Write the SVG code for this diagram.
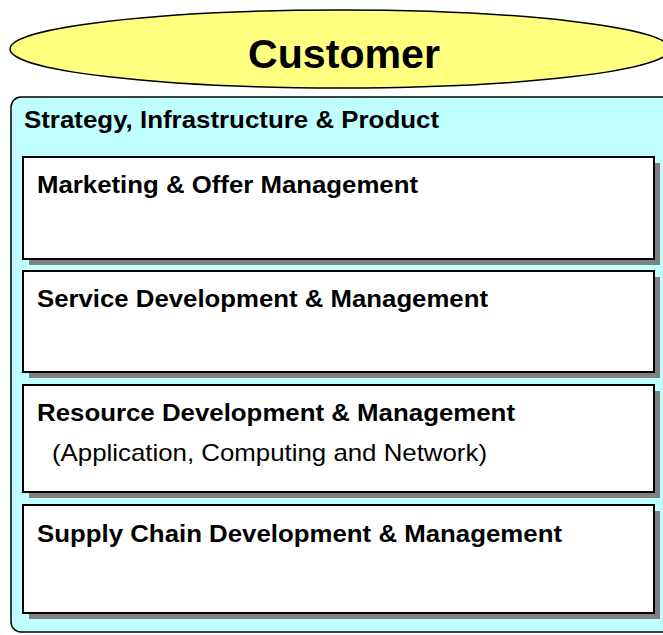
<svg xmlns="http://www.w3.org/2000/svg" width="663" height="635" viewBox="0 0 663 635">
<style>
.b{font-family:"Liberation Sans",Arial,sans-serif;font-weight:bold;font-size:24px;fill:#000}
.r{font-family:"Liberation Sans",Arial,sans-serif;font-size:24px;fill:#000}
.box{fill:#fff;stroke:#000;stroke-width:2}
.sh{fill:#808080}
</style>
<rect width="663" height="635" fill="#fff"/>
<g id="customer">
<ellipse cx="340" cy="49" rx="330" ry="39" fill="#ffff80" stroke="#000" stroke-width="1.5"/>
<text class="b" x="344" y="68" style="font-size:40px" text-anchor="middle" textLength="192" lengthAdjust="spacingAndGlyphs">Customer</text>
</g>
<g id="sip">
<rect x="11" y="97" width="662" height="535" rx="10" fill="#c0ffff" stroke="#000" stroke-width="1.5"/>
<text class="b" x="24" y="128" textLength="415" lengthAdjust="spacingAndGlyphs">Strategy, Infrastructure &amp; Product</text>
</g>
<g id="marketing">
<rect class="sh" x="29" y="163" width="631" height="102"/>
<rect class="box" x="23" y="157" width="631" height="102"/>
<text class="b" x="37" y="193" textLength="381" lengthAdjust="spacingAndGlyphs">Marketing &amp; Offer Management</text>
</g>
<g id="service">
<rect class="sh" x="29" y="277" width="631" height="101"/>
<rect class="box" x="23" y="271" width="631" height="101"/>
<text class="b" x="37" y="307" textLength="451" lengthAdjust="spacingAndGlyphs">Service Development &amp; Management</text>
</g>
<g id="resource">
<rect class="sh" x="29" y="391" width="631" height="107"/>
<rect class="box" x="23" y="385" width="631" height="107"/>
<text class="b" x="37" y="421" textLength="478" lengthAdjust="spacingAndGlyphs">Resource Development &amp; Management</text>
<text class="r" x="52" y="461" textLength="435" lengthAdjust="spacingAndGlyphs">(Application, Computing and Network)</text>
</g>
<g id="supply">
<rect class="sh" x="29" y="511" width="631" height="108"/>
<rect class="box" x="23" y="505" width="631" height="108"/>
<text class="b" x="37" y="542" textLength="525" lengthAdjust="spacingAndGlyphs">Supply Chain Development &amp; Management</text>
</g>
<g id="connectors"/>
</svg>
